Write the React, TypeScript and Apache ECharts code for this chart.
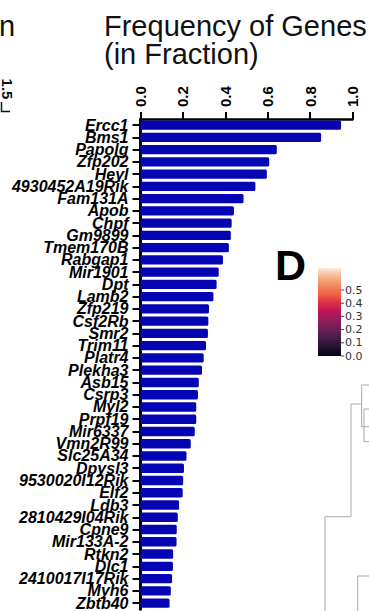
import React, { useEffect, useRef } from "react";
import * as echarts from "echarts";

const genes = [
  "Ercc1", "Bms1", "Papolg", "Zfp202", "Heyl", "4930452A19Rik", "Fam131A", "Apob", "Chpf", "Gm9899",
  "Tmem170B", "Rabgap1", "Mir1901", "Dpt", "Lamb2", "Zfp219", "Csf2Rb", "Smr2", "Trim11", "Platr4",
  "Plekha3", "Asb15", "Csrp3", "Myl2", "Prpf19", "Mir6337", "Vmn2R99", "Slc25A34", "Dpysl3", "9530020I12Rik",
  "Elf2", "Ldb3", "2810429I04Rik", "Cpne9", "Mir133A-2", "Rtkn2", "Dlc1", "2410017I17Rik", "Myh6", "Zbtb40",
];

const frequency = [
  0.946, 0.852, 0.643, 0.607, 0.596, 0.542, 0.486, 0.441, 0.43, 0.426,
  0.417, 0.389, 0.369, 0.359, 0.344, 0.323, 0.32, 0.318, 0.309, 0.298,
  0.29, 0.275, 0.271, 0.263, 0.263, 0.256, 0.237, 0.217, 0.205, 0.201,
  0.199, 0.182, 0.176, 0.171, 0.17, 0.154, 0.153, 0.149, 0.143, 0.137,
];

const colorbarTicks = [0.0, 0.1, 0.2, 0.3, 0.4, 0.5];
const rocketStops = [
  "#FAEBDD", "#F6B48E", "#F4875E", "#F06043", "#DD2C45", "#B91657",
  "#921C5B", "#6A1F56", "#451C47", "#221331", "#03051A",
];

const FONT = "Liberation Sans, Arial, sans-serif";

export default function App() {
  const ref = useRef<HTMLDivElement>(null);
  useEffect(() => {
    const chart = echarts.init(ref.current!, null, { renderer: "svg" });

    const cbTop = 268;
    const cbBottom = 356;
    const cbX = 318;
    const cbW = 23;
    const cbPer = 132; // px per unit
    const cbY = (v: number) => cbBottom - v * cbPer;

    const gray = "#a8a8a8";
    const graphic: any[] = [
      { type: "text", x: 104, y: 11, style: { text: "Frequency of Genes", fontSize: 29, fontFamily: FONT, fill: "#111" } },
      { type: "text", x: 104, y: 39.5, style: { text: "(in Fraction)", fontSize: 29, fontFamily: FONT, fill: "#111" } },
      { type: "text", x: -1, y: 11, style: { text: "n", fontSize: 29, fontFamily: FONT, fill: "#111" } },
      {
        type: "text", x: 7, y: 89, rotation: -Math.PI / 2,
        style: { text: "1.5", fontSize: 15, fontWeight: "bold", fontFamily: FONT, fill: "#111", align: "center", verticalAlign: "middle" },
      },
      { type: "polyline", shape: { points: [[1.5, 102], [1.5, 111.5], [10, 111.5]] }, style: { stroke: "#111", lineWidth: 1.5, fill: null } },
      { type: "text", x: 275, y: 243.5, style: { text: "D", fontSize: 43, fontWeight: "bold", fontFamily: FONT, fill: "#000" } },
      {
        type: "rect",
        shape: { x: cbX, y: cbTop, width: cbW, height: cbBottom - cbTop },
        style: {
          fill: new echarts.graphic.LinearGradient(0, 0, 0, 1,
            rocketStops.map((c, i) => ({ offset: i / (rocketStops.length - 1), color: c }))),
        },
      },
      ...colorbarTicks.map((t) => ({
        type: "line",
        shape: { x1: cbX + cbW, y1: cbY(t), x2: cbX + cbW + 3, y2: cbY(t) },
        style: { stroke: "#444", lineWidth: 1 },
      })),
      ...colorbarTicks.map((t) => ({
        type: "text", x: cbX + cbW + 4, y: cbY(t),
        style: { text: t.toFixed(1), fontSize: 11, fontFamily: "DejaVu Sans", fill: "#333", verticalAlign: "middle" },
      })),
      { type: "polyline", shape: { points: [[369, 385], [361.7, 385], [361.7, 426.7], [369, 426.7]] }, style: { stroke: gray, lineWidth: 1, fill: null } },
      { type: "polyline", shape: { points: [[369, 409], [364, 409], [364, 441.7], [369, 441.7]] }, style: { stroke: gray, lineWidth: 1, fill: null } },
      { type: "polyline", shape: { points: [[361.7, 404], [351, 404], [351, 516.7], [325, 516.7], [325, 612]] }, style: { stroke: gray, lineWidth: 1, fill: null } },
      { type: "polyline", shape: { points: [[369, 576], [357.7, 576], [357.7, 612]] }, style: { stroke: gray, lineWidth: 1, fill: null } },
    ];

    chart.setOption({
      animation: false,
      backgroundColor: "#fff",
      textStyle: { fontFamily: FONT },
      grid: { left: 140.5, top: 119, width: 212, height: 494, containLabel: false },
      xAxis: {
        type: "value",
        position: "top",
        min: 0,
        max: 1,
        interval: 0.2,
        splitLine: { show: false },
        axisLine: { show: true, lineStyle: { color: "#000", width: 2.5 } },
        axisTick: { show: true, length: 7, lineStyle: { color: "#000", width: 2 } },
        axisLabel: {
          rotate: -90,
          fontSize: 15,
          fontWeight: "bold",
          color: "#000",
          margin: 12,
          fontFamily: FONT,
          formatter: (v: number) => v.toFixed(1),
        },
      },
      yAxis: {
        type: "category",
        inverse: true,
        data: genes,
        axisLine: { show: true, lineStyle: { color: "#000", width: 3 } },
        axisTick: { show: true, length: 8, alignWithLabel: true, lineStyle: { color: "#000", width: 2 } },
        axisLabel: {
          interval: 0,
          fontSize: 16,
          fontWeight: "bold",
          fontStyle: "italic",
          color: "#000",
          margin: 12,
          fontFamily: FONT,
        },
      },
      series: [
        {
          type: "bar",
          data: frequency,
          barCategoryGap: "24%",
          itemStyle: { color: "#0505b4", borderRadius: [0, 1.5, 1.5, 0] },
          z: 1,
        },
      ],
      graphic,
    });

    return () => chart.dispose();
  }, []);

  return (
    <div
      ref={ref}
      style={{ position: "fixed", left: 0, top: 0, width: 369, height: 611, background: "#fff" }}
    />
  );
}
